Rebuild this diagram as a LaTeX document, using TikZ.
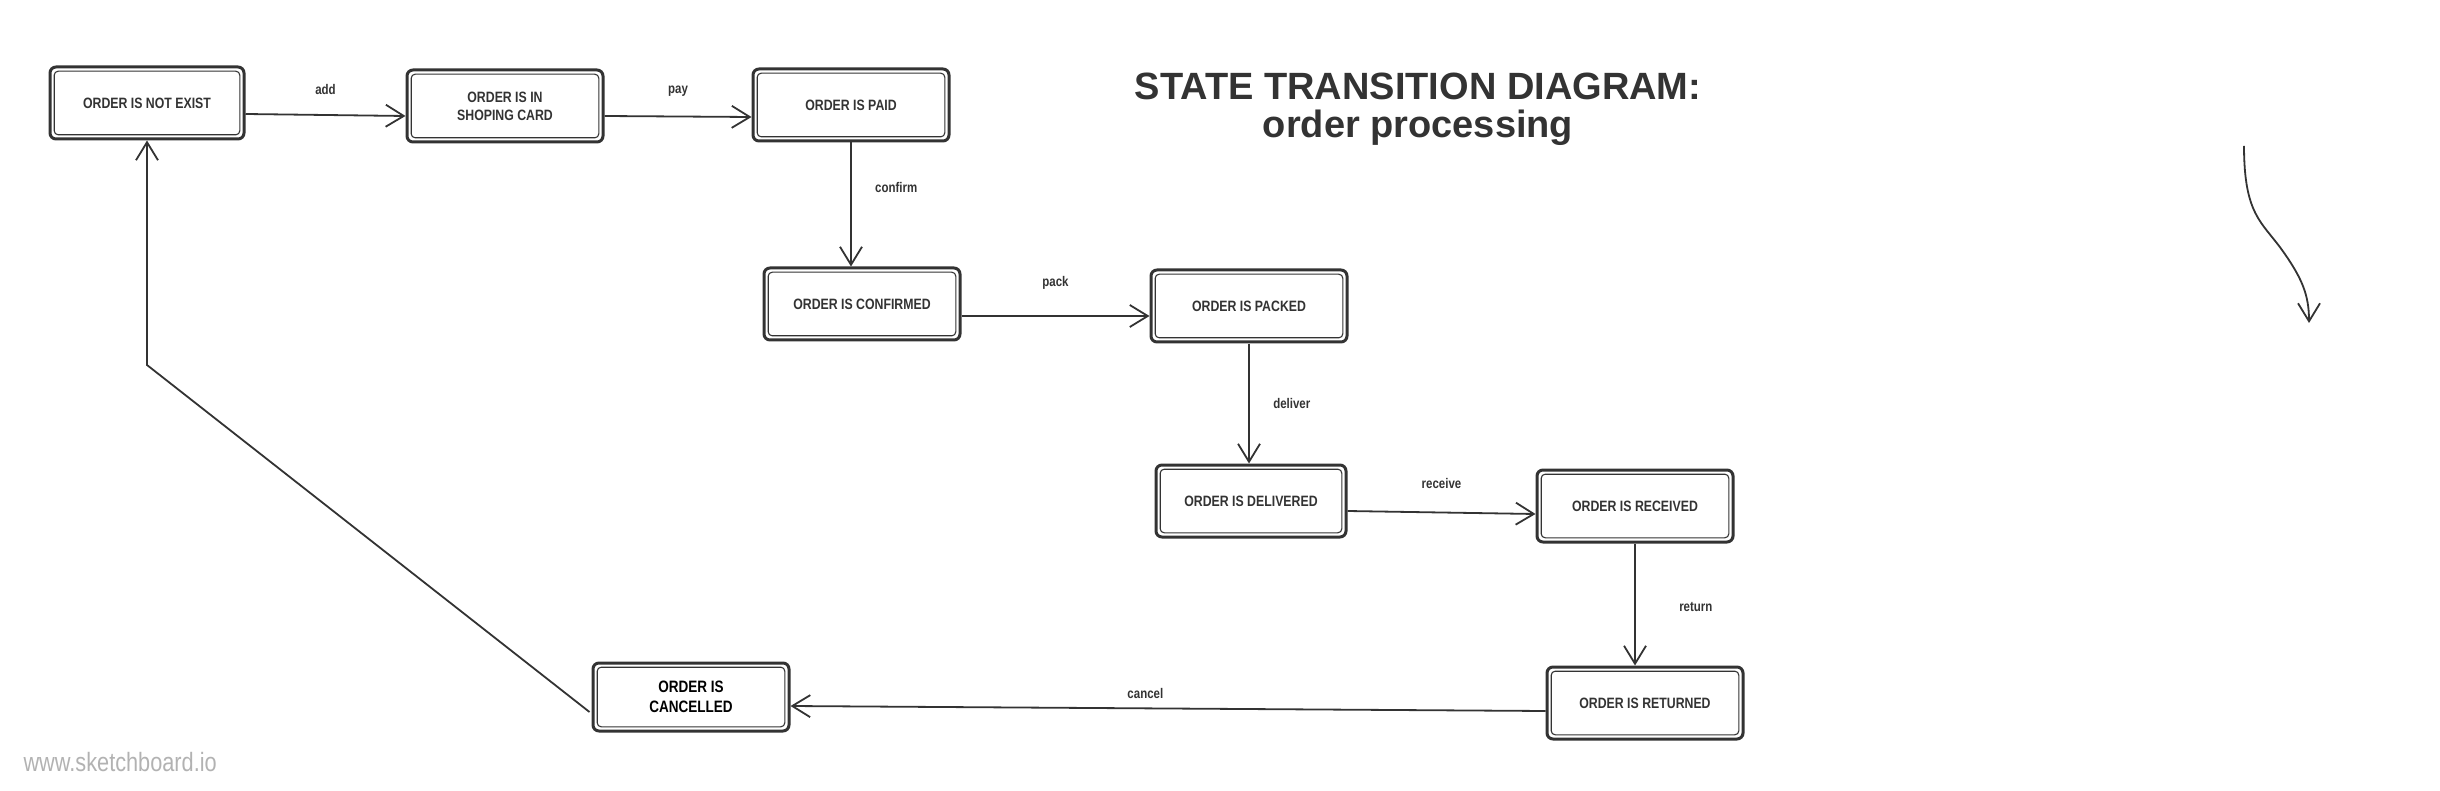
\documentclass[tikz,border=0pt]{standalone}
\usepackage{fontspec}
\setmainfont{Liberation Sans}
\newfontfamily\cond[FakeStretch=0.82]{Liberation Sans}
\usetikzlibrary{arrows.meta,calc}
\definecolor{ink}{HTML}{333333}
\tikzset{
  state/.style={draw=ink, line width=3pt,
    rounded corners=6pt, minimum width=196pt, minimum height=72pt, inner sep=0pt,
    align=center, text=ink, font=\cond\bfseries\fontsize{15}{18}\selectfont,
    path picture={\draw[ink, line width=1.1pt, rounded corners=4pt]
      ([shift={(4.2pt,-4.2pt)}]path picture bounding box.north west) rectangle
      ([shift={(-4.2pt,4.2pt)}]path picture bounding box.south east);}},
  arr/.style={draw=ink, line width=1.8pt,
    -{Straight Barb[length=18pt,width=22pt,line width=1.8pt]}},
  lbl/.style={text=ink, font=\cond\bfseries\fontsize{14}{16}\selectfont},
}
\begin{document}
\begin{tikzpicture}[x=1pt,y=-1pt]
\useasboundingbox (0,0) rectangle (2440,791);
\node[state, minimum width=194pt] (n1) at (147,103) {ORDER IS NOT EXIST};
\node[state] (n2) at (505,106) {ORDER IS IN\\SHOPING CARD};
\node[state] (n3) at (851,105) {ORDER IS PAID};
\node[state] (n4) at (862,304) {ORDER IS CONFIRMED};
\node[state] (n5) at (1249,306) {ORDER IS PACKED};
\node[state, minimum width=190pt] (n6) at (1251,501) {ORDER IS DELIVERED};
\node[state] (n7) at (1635,506) {ORDER IS RECEIVED};
\node[state] (n8) at (1645,703) {ORDER IS RETURNED};
\node[state, minimum height=68pt, text=black, font=\cond\bfseries\fontsize{16.5}{20}\selectfont] (n9) at (691,697) {ORDER IS\\CANCELLED};

\node[text=ink, font=\bfseries\fontsize{38}{38}\selectfont, align=center] (title) at (1418,109)
  {STATE TRANSITION DIAGRAM:\\order processing};

\draw[arr] ($(n1.east)+(0,11)$) -- node[lbl, above=16pt] (la) {add} ($(n2.west)+(0,10)$);
\draw[arr] ($(n2.east)+(0,10)$) -- node[lbl, above=16pt] (lb) {pay} ($(n3.west)+(0,12)$);
\draw[arr] (n3.south) -- node[lbl, right=20pt, pos=0.36] (lc) {confirm} (n3.south |- n4.north);
\draw[arr] ($(n4.east)+(0,12)$) -- node[lbl, above=22pt] (ld) {pack} ($(n5.west)+(0,10)$);
\draw[arr] (n5.south) -- node[lbl, right=20pt, pos=0.5] (le) {deliver} (n5.south |- n6.north);
\draw[arr] ($(n6.east)+(0,10)$) -- node[lbl, above=20pt] (lf) {receive} ($(n7.west)+(0,8)$);
\draw[arr] (n7.south) -- node[lbl, right=40pt, pos=0.52] (lg) {return} (n7.south |- n8.north);
\draw[arr] ($(n8.west)+(0,8)$) -- node[lbl, above=5pt, pos=0.53] (lh) {cancel} ($(n9.east)+(0,9)$);
\coordinate (bend) at (147,365);
\draw[arr] ($(n9.west)+(-2,15)$) -- (bend) -- (n1.south);

\coordinate (s0) at (2244,146);
\coordinate (s1) at (2309,323);
\draw[arr] (s0) .. controls (2244,215) and (2262,222) .. (2282,250)
  .. controls (2302,278) and (2309,295) .. (s1);

\node[anchor=west, text=black!30, font=\cond\fontsize{26.5}{28}\selectfont] (wm) at (20,762) {www.sketchboard.io};
\end{tikzpicture}
\end{document}
